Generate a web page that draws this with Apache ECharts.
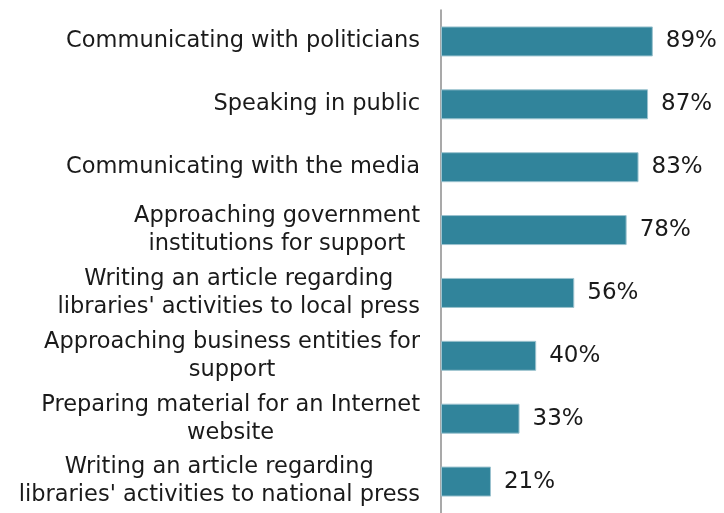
<!DOCTYPE html>
<html>
<head>
<meta charset="utf-8">
<script src="https://cdn.jsdelivr.net/npm/echarts@6/dist/echarts.min.js"></script>
<style>
  html, body { margin: 0; padding: 0; background: #fff; }
  #chart { width: 724px; height: 513px; }
</style>
</head>
<body>
<div id="chart"></div>
<script>
// categories, top to bottom
const categories = [
  'Communicating with politicians',
  'Speaking in public',
  'Communicating with the media',
  'Approaching government\ninstitutions for support',
  'Writing an article regarding\nlibraries\' activities to local press',
  'Approaching business entities for\nsupport',
  'Preparing material for an Internet\nwebsite',
  'Writing an article regarding\nlibraries\' activities to national press'
];
const values = [89, 87, 83, 78, 56, 40, 33, 21];

const chart = echarts.init(document.getElementById('chart'));
chart.setOption({
  animation: false,
  grid: { left: 441, right: 45, top: 10, height: 510, containLabel: false },
  xAxis: {
    type: 'value',
    min: 0,
    max: 100,
    show: false
  },
  yAxis: {
    type: 'category',
    inverse: true,
    data: categories,
    axisLine: { show: true, lineStyle: { color: '#8c8c8c', width: 1.5 } },
    axisTick: { show: false },
    axisLabel: {
      margin: 21,
      align: 'right',
      formatter: v => '{c|' + v + '}',
      rich: {
        c: {
          align: 'center',
          fontFamily: 'DejaVu Sans',
          fontSize: 22.5,
          lineHeight: 28,
          color: '#1a1a1a'
        }
      }
    }
  },
  series: [{
    type: 'bar',
    data: values,
    barWidth: 30,
    itemStyle: { color: '#31849b', borderColor: '#9cc3cf', borderWidth: 1 },
    label: {
      show: true,
      position: 'right',
      distance: 13,
      formatter: p => p.value + '%',
      fontFamily: 'DejaVu Sans',
      fontSize: 23,
      color: '#1a1a1a'
    }
  }]
});
</script>
</body>
</html>
